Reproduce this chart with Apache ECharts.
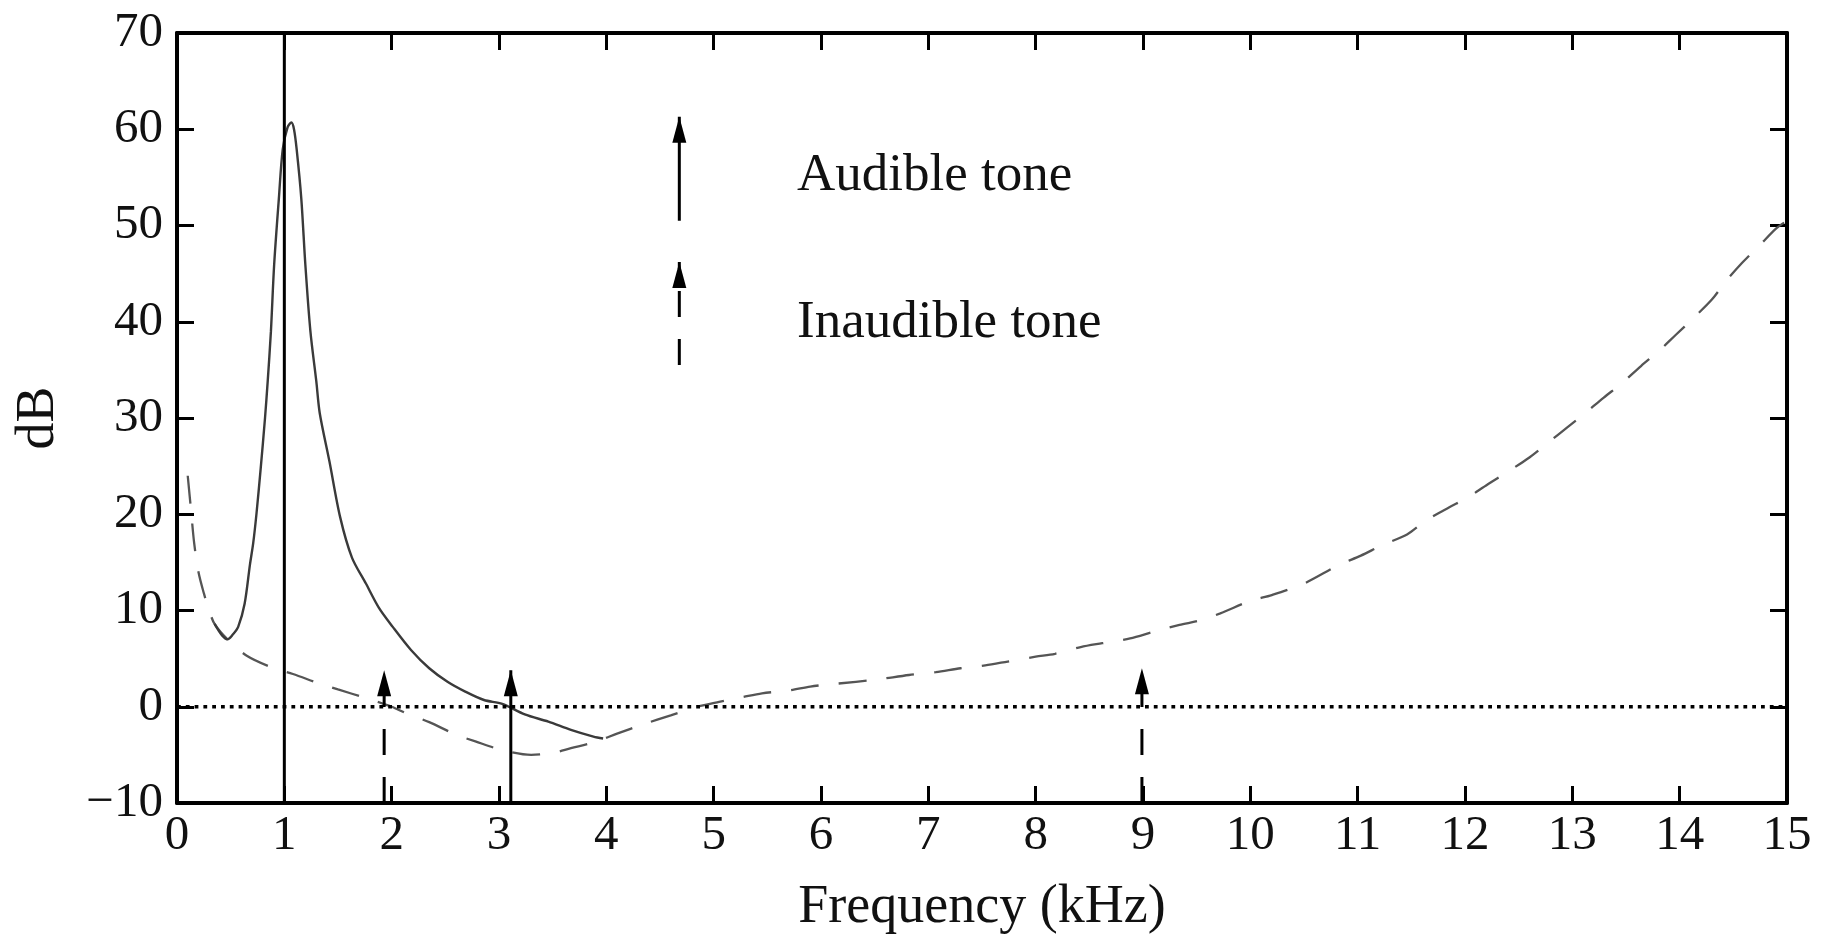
<!DOCTYPE html>
<html>
<head>
<meta charset="utf-8">
<script src="https://cdn.jsdelivr.net/npm/echarts@6/dist/echarts.min.js"></script>
<style>
  html, body { margin: 0; padding: 0; background: #fff; }
  #main { width: 1829px; height: 940px; }
</style>
</head>
<body>
<div id="main"></div>
<script>
// absolute threshold of hearing (dashed curve), [kHz, dB]
var thresholdCurve = [
  [0.10, 24], [0.13, 20.5], [0.16, 17], [0.20, 14], [0.25, 11.8], [0.30, 10], [0.35, 8.6],
  [0.47, 7.0], [0.65, 5.3], [0.88, 4.1], [1.08, 3.4], [1.33, 2.4], [1.50, 1.8], [1.76, 0.9],
  [2.00, 0.0], [2.14, -0.7], [2.35, -1.6], [2.60, -2.9], [2.78, -3.6], [3.03, -4.5], [3.30, -5.0],
  [3.50, -4.8], [3.67, -4.3], [3.88, -3.7], [4.10, -2.8], [4.35, -1.8], [4.60, -0.9], [4.85, 0],
  [5.05, 0.5], [5.27, 1.0], [5.45, 1.4], [5.71, 1.7], [5.90, 2.1], [6.15, 2.4], [6.50, 2.8],
  [6.82, 3.3], [7.07, 3.6], [7.30, 4.0], [7.53, 4.3], [7.74, 4.7], [8.00, 5.2], [8.18, 5.5],
  [8.42, 6.2], [8.62, 6.6], [8.88, 7.1], [9.10, 7.8], [9.34, 8.5], [9.54, 9.0], [9.72, 9.7],
  [10.0, 11.0], [10.2, 11.6], [10.5, 12.8], [10.82, 14.7], [11.03, 15.7], [11.23, 16.8],
  [11.46, 17.9], [11.63, 19.3], [11.85, 20.7], [12.02, 21.7], [12.21, 23.1], [12.41, 24.5],
  [12.60, 25.9], [12.77, 27.4], [12.95, 29.0], [13.12, 30.5], [13.29, 32.1], [13.46, 33.6],
  [13.64, 35.4], [13.81, 37.0], [13.96, 38.6], [14.13, 40.4], [14.30, 42.3], [14.43, 44.2],
  [14.58, 46.1], [14.75, 48.0], [14.90, 49.7], [15.0, 50.5]
];

// masked threshold around the 1 kHz tone (solid curve), [kHz, dB]
var maskingCurve = [
  [0.35, 8.6], [0.42, 7.4], [0.47, 7.0], [0.52, 7.5], [0.57, 8.3], [0.63, 10.7], [0.68, 14.8],
  [0.71, 17], [0.74, 20], [0.78, 24.8], [0.82, 30], [0.845, 33.8], [0.875, 39], [0.905, 45.9],
  [0.949, 52.8], [0.985, 57.9], [1.03, 60.2], [1.066, 60.7], [1.09, 60], [1.115, 57.9],
  [1.158, 52.8], [1.196, 45.9], [1.243, 39], [1.298, 33.8], [1.33, 30.5], [1.42, 25.5],
  [1.52, 19.7], [1.63, 15.5], [1.76, 12.8], [1.88, 10.3], [2.01, 8.3], [2.18, 5.9], [2.35, 4.0],
  [2.52, 2.6], [2.69, 1.55], [2.86, 0.7], [3.03, 0.3], [3.24, -0.8], [3.46, -1.55], [3.67, -2.4],
  [3.88, -3.1], [3.97, -3.3]
];

// tones: frequency (kHz) and level of arrow tip (dB)
var audibleFreq = [1.0, 3.11];
var audibleLevel = [70, 3.8];
var inaudibleFreq = [1.93, 8.99];
var inaudibleLevel = [3.8, 4.0];

var xTicks = [0, 1, 2, 3, 4, 5, 6, 7, 8, 9, 10, 11, 12, 13, 14, 15];
var yTicks = [-10, 0, 10, 20, 30, 40, 50, 60, 70];

var serif = '"Liberation Serif", "DejaVu Serif", serif';
var yMin = yTicks[0];
var yMax = yTicks[yTicks.length - 1];

function arrow(f, bottom, top, dashed, head) {
  return {
    type: 'line',
    silent: true,
    animation: false,
    z: 5,
    data: [
      { value: [f, bottom], symbol: 'none' },
      { value: [f, top], symbol: head ? 'triangle' : 'none', symbolSize: [14, 26], symbolOffset: [0, 13] }
    ],
    lineStyle: { color: '#000', width: 3, type: dashed ? [26, 22] : 'solid' },
    itemStyle: { color: '#000' }
  };
}

var series = [
  {
    type: 'line', silent: true, animation: false, showSymbol: false, smooth: 0.3,
    data: thresholdCurve,
    lineStyle: { color: '#555', width: 2.3, type: [28, 20] }
  },
  {
    type: 'line', silent: true, animation: false, showSymbol: false, smooth: 0.3,
    data: maskingCurve,
    lineStyle: { color: '#3a3a3a', width: 2.4 }
  },
  {
    type: 'line', silent: true, animation: false, showSymbol: false,
    data: [[xTicks[0], 0], [xTicks[xTicks.length - 1], 0]],
    lineStyle: { color: '#000', width: 3.6, type: [3.8, 5.0] }
  }
];

for (var i = 0; i < audibleFreq.length; i++) {
  series.push(arrow(audibleFreq[i], yMin, audibleLevel[i], false, audibleLevel[i] < yMax));
}
for (var j = 0; j < inaudibleFreq.length; j++) {
  series.push(arrow(inaudibleFreq[j], yMin, inaudibleLevel[j], true, true));
}
// key arrows
series.push(arrow(4.68, 50.5, 61.3, false, true));
series.push(arrow(4.68, 35.5, 46.2, true, true));

function boxAxis(extra) {
  return Object.assign({
    axisLine: { onZero: false, lineStyle: { color: '#000', width: 4 } },
    axisTick: { inside: true, length: 17, lineStyle: { color: '#000', width: 3 } },
    splitLine: { show: false }
  }, extra);
}

var chart = echarts.init(document.getElementById('main'));
chart.setOption({
  backgroundColor: '#fff',
  animation: false,
  grid: { left: 177, top: 33, width: 1610, height: 773 },
  xAxis: [
    boxAxis({
      type: 'value', position: 'bottom', min: 0, max: 15, interval: 1,
      name: 'Frequency (kHz)', nameLocation: 'middle', nameGap: 78,
      nameTextStyle: { fontFamily: serif, fontSize: 54, color: '#111' },
      axisLabel: { fontFamily: serif, fontSize: 49, color: '#111', margin: 9 }
    }),
    boxAxis({
      type: 'value', position: 'top', min: 0, max: 15, interval: 1,
      axisLabel: { show: false }
    })
  ],
  yAxis: [
    boxAxis({
      type: 'value', position: 'left', min: -10, max: 70, interval: 10,
      name: 'dB', nameLocation: 'middle', nameGap: 111, nameRotate: 90,
      nameTextStyle: { fontFamily: serif, fontSize: 54, color: '#111' },
      axisLabel: {
        fontFamily: serif, fontSize: 49, color: '#111', margin: 14,
        formatter: function (v) { return String(v).replace('-', '\u2212'); }
      }
    }),
    boxAxis({
      type: 'value', position: 'right', min: -10, max: 70, interval: 10,
      axisLabel: { show: false }
    })
  ],
  graphic: [
    { type: 'text', left: 797, top: 150, style: { text: 'Audible tone', font: '53px ' + serif, fill: '#111' } },
    { type: 'text', left: 797, top: 297, style: { text: 'Inaudible tone', font: '53px ' + serif, fill: '#111' } }
  ],
  series: series
});
</script>
</body>
</html>
